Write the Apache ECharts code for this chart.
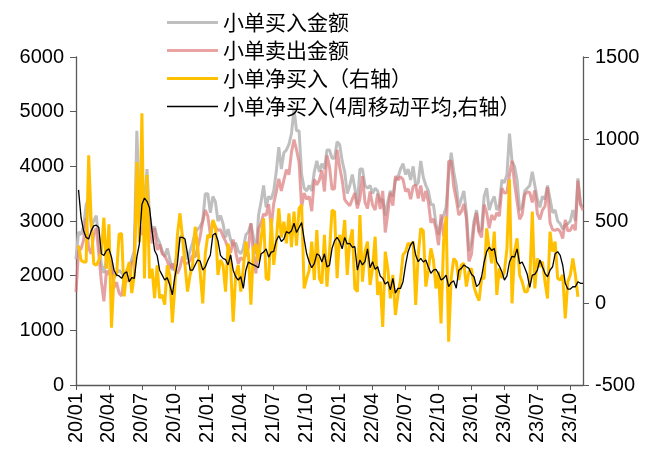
<!DOCTYPE html>
<html>
<head>
<meta charset="utf-8">
<script src="https://cdn.jsdelivr.net/npm/echarts@6/dist/echarts.min.js"></script>
<style>
html,body{margin:0;padding:0;background:#fff;}
#chart{width:649px;height:455px;}
</style>
</head>
<body>
<div id="chart"></div>
<script>
// Quarter tick labels (one every 13 weeks)
const tickLabels = ['20/01','20/04','20/07','20/10','21/01','21/04','21/07','21/10','22/01','22/04','22/07','22/10','23/01','23/04','23/07','23/10'];

// 小单买入金额 (left axis), weekly
const buyAmount = [
2300,2800,2750,2900,3300,3400,2900,3000,3100,2650,2200,2050,2300,
2500,2100,1950,2050,2100,2050,2000,2100,2150,2300,2450,4650,3300,
3900,3200,3950,3100,2800,2900,2700,2600,2450,2350,2500,2300,2100,
2200,2450,2700,2750,2450,2300,2450,2600,2800,2850,2900,3000,3500,
3500,3150,3450,3350,3000,3100,2950,2700,2850,2650,2550,2600,2450,
2400,2500,2750,2800,2950,2700,2400,3100,3350,3650,3250,3450,3400,
3550,3900,4350,3950,4250,4300,4400,4600,5050,4650,4650,3850,3600,
3550,3650,3550,3900,4100,3900,4050,3950,4300,4300,4150,4150,4450,
4400,4100,3900,3500,3650,3850,3600,3300,3950,3950,3650,3600,3650,
3500,3600,3550,3350,3400,3100,3350,3550,3450,3750,3800,3950,4050,
3850,3950,3750,4000,3650,3700,4100,3800,3650,3550,3300,3300,2950,
2750,3000,3100,3250,3850,4250,3900,3650,3250,3400,3550,3150,2450,
2600,3000,3200,2800,2850,3450,3600,3200,3350,3450,3200,3300,3750,
3700,3850,4600,4100,4000,3750,3200,3250,3550,3600,3650,3900,3650,
3400,3250,3450,3400,3650,3400,3150,3200,3000,2950,2850,2930,2950,
3000,3200,3000,3780,3300,3290];

// 小单卖出金额 (left axis), weekly
const sellAmount = [
1700,2450,2490,2650,3050,2500,2400,2760,2870,2390,1890,1530,2090,
2020,2250,1780,1880,1680,1630,1960,1910,1900,2240,2280,3790,2930,
2740,3050,3170,2950,2590,2870,2470,2570,2400,2360,2270,2130,2220,
2100,2040,2150,2350,2220,2230,2280,2370,2340,2510,2720,3000,3200,
3090,2750,2940,2890,2830,2840,2720,2630,2490,2420,2660,2430,2220,
2330,2290,2380,2500,2960,2370,2040,2850,2960,3130,3100,3310,2880,
3320,3530,3770,3550,3750,3940,3850,4260,4490,4300,4070,3250,3510,
3400,3450,3180,3760,3660,3750,3930,3540,4200,3990,3580,3590,4300,
3990,3750,3390,3330,3280,3400,3510,3230,3410,3820,3340,3230,3540,
3290,3200,3500,3220,3550,2790,3140,3520,3280,3820,3750,3810,3760,
3540,3590,3400,3630,3660,3410,3650,3360,3550,3350,2970,3040,2860,
2560,3120,2730,2720,4090,4100,3630,3400,3110,3170,3310,3050,2260,
2390,2900,3150,2790,2700,3300,3150,2870,3110,3020,3150,3090,3600,
3510,3520,3850,4100,3690,3360,3030,3120,3480,3530,3520,3340,3560,
3130,3030,3200,3270,3620,2970,2840,2830,2850,2810,2680,3020,2820,
2830,2930,2830,3740,3300,3200];

// 小单净买入 (right axis), weekly
const netBuy = [
null,350,260,250,250,900,500,240,230,260,310,520,210,
480,-150,170,170,420,424,40,190,250,60,170,860,370,
1157,150,780,150,210,30,230,30,50,-10,230,170,-120,
100,415,547,400,230,70,170,232,465,340,180,-2,300,
415,400,506,465,171,262,232,69,364,232,-114,171,232,
69,211,374,300,-10,330,360,252,394,516,151,140,516,
232,374,577,400,496,364,547,340,557,350,577,598,89,
150,200,374,140,445,150,119,415,100,313,567,557,151,
415,354,506,171,374,450,89,69,536,130,313,374,110,
211,404,49,130,-146,313,211,28,171,-73,49,140,293,
313,364,354,374,-12,293,455,440,100,200,333,262,89,
191,-124,374,527,-236,151,272,252,140,232,242,100,191,
211,100,49,14,151,150,455,333,242,435,49,211,151,
191,333,754,-2,313,394,171,130,69,69,130,557,89,
272,221,252,130,28,435,313,374,150,140,171,-94,130,
171,272,171,38,null,null];

// 小单净买入 4周移动平均 (right axis), weekly
const netBuyMA4 = [
null,690,520,440,400,390,440,470,475,460,300,290,320,
330,280,200,170,165,150,180,190,130,155,150,280,360,
600,640,620,580,440,320,290,200,170,140,154,110,49,
160,240,400,400,390,300,200,200,232,262,255,201,220,
260,293,415,425,380,290,272,265,232,293,200,160,140,
160,89,200,250,240,232,225,215,300,310,330,280,310,
315,380,410,375,390,435,425,440,486,430,460,490,390,
300,250,215,240,300,290,250,300,220,230,333,380,400,
375,330,400,360,364,340,343,200,262,232,252,330,215,
252,205,221,165,150,115,130,80,150,60,89,89,130,
232,313,354,374,293,252,272,250,262,220,181,201,205,
180,140,150,170,100,125,135,90,200,211,232,221,211,
175,160,100,115,160,250,313,340,320,333,250,225,191,
140,165,250,285,280,330,240,250,215,175,95,170,175,
200,262,221,181,160,200,221,300,313,290,230,120,85,
85,99,99,130,120,120];

const seriesNames = ['小单买入金额','小单卖出金额','小单净买入（右轴）','小单净买入(4周移动平均,右轴）'];

const categories = buyAmount.map((_, i) => tickLabels[Math.floor(i / 13)] + '#' + (i % 13));

// legend line icons: thin bar centred in a 51x14 box (tiny corner anchors keep the box size)
const lineIcon = t => {
  const a = (14 - t) / 2, b = a + t;
  return 'path://M0,0L0.01,0L0.01,0.01Z M0,' + a + 'L51,' + a + 'L51,' + b + 'L0,' + b + 'Z M50.99,14L51,14L51,13.99Z';
};

const chart = echarts.init(document.getElementById('chart'), null, {renderer: 'canvas'});
const axisColor = '#595959';
const numFont = 'Liberation Sans, Arial, sans-serif';
const plain = v => String(v);
chart.setOption({
  animation: false,
  backgroundColor: '#fff',
  grid: {left: 76, right: 66, top: 57, bottom: 70, containLabel: false},
  legend: {
    orient: 'vertical',
    left: 162, top: 7,
    itemWidth: 51, itemHeight: 14, itemGap: 7,
    textStyle: {fontFamily: 'Noto Sans CJK SC', fontSize: 21, color: '#000', lineHeight: 20},
    data: [
      {name: seriesNames[0], icon: lineIcon(3)},
      {name: seriesNames[1], icon: lineIcon(3)},
      {name: seriesNames[2], icon: lineIcon(3)},
      {name: seriesNames[3], icon: lineIcon(1.4)}
    ]
  },
  xAxis: {
    type: 'category',
    data: categories,
    boundaryGap: false,
    axisLine: {lineStyle: {color: axisColor, width: 1.3}},
    axisTick: {interval: 12, length: 5, lineStyle: {color: axisColor}},
    axisLabel: {
      interval: 12, rotate: 90, margin: 8,
      fontFamily: numFont, fontSize: 20, color: '#000',
      formatter: v => v.split('#')[0]
    },
    splitLine: {show: false}
  },
  yAxis: [
    {
      type: 'value', min: 0, max: 6000, interval: 1000, position: 'left',
      axisLine: {show: true, lineStyle: {color: axisColor, width: 1.3}},
      axisTick: {show: true, length: 6, lineStyle: {color: axisColor}},
      axisLabel: {fontFamily: numFont, fontSize: 20, color: '#000', margin: 12, formatter: plain},
      splitLine: {show: false}
    },
    {
      type: 'value', min: -500, max: 1500, interval: 500, position: 'right',
      axisLine: {show: true, lineStyle: {color: axisColor, width: 1.3}},
      axisTick: {show: true, length: 6, lineStyle: {color: axisColor}},
      axisLabel: {fontFamily: numFont, fontSize: 20, color: '#000', margin: 12, formatter: plain},
      splitLine: {show: false}
    }
  ],
  series: [
    {name: seriesNames[0], type: 'line', yAxisIndex: 0, data: buyAmount, symbol: 'none',
     lineStyle: {color: '#BFBFBF', width: 3}, itemStyle: {color: '#BFBFBF'}},
    {name: seriesNames[1], type: 'line', yAxisIndex: 0, data: sellAmount, symbol: 'none',
     lineStyle: {color: '#D87070', width: 3, opacity: 0.65}, itemStyle: {color: '#E9A3A3'}},
    {name: seriesNames[2], type: 'line', yAxisIndex: 1, data: netBuy, symbol: 'none',
     lineStyle: {color: '#FFC000', width: 3}, itemStyle: {color: '#FFC000'}},
    {name: seriesNames[3], type: 'line', yAxisIndex: 1, data: netBuyMA4, symbol: 'none',
     lineStyle: {color: '#000000', width: 1.3}, itemStyle: {color: '#000000'}}
  ]
});
</script>
</body>
</html>
